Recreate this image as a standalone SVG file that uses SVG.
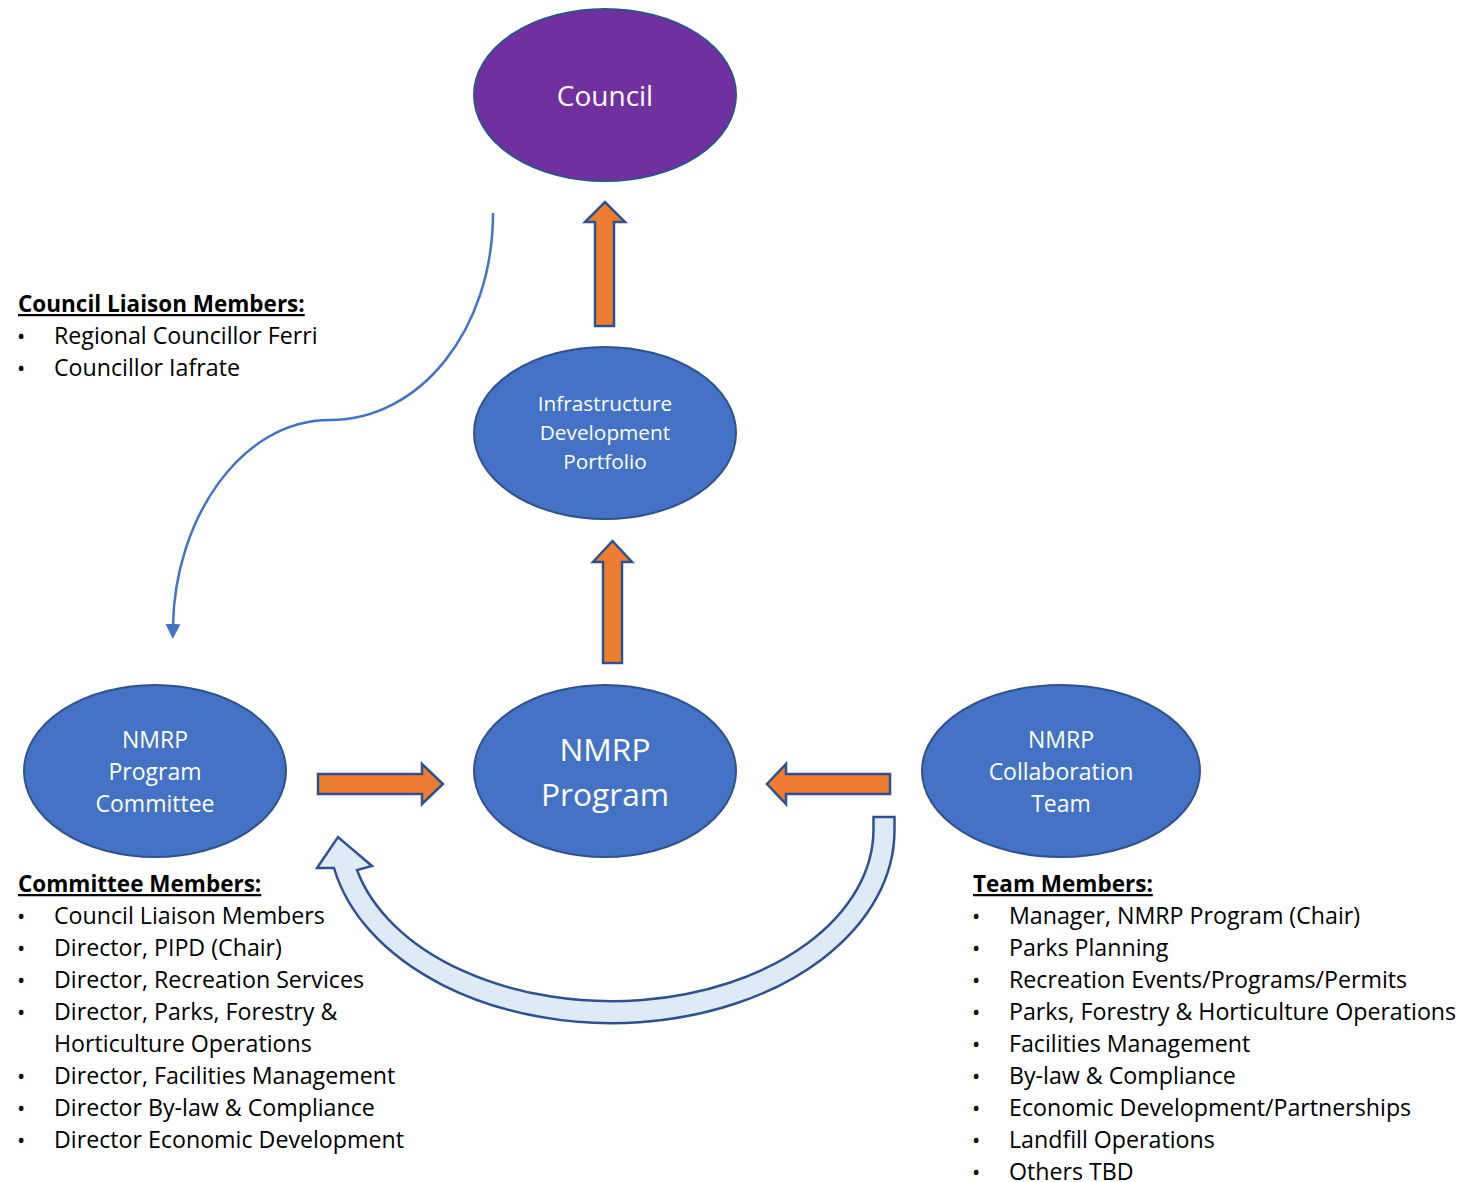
<svg xmlns="http://www.w3.org/2000/svg" width="1483" height="1182" viewBox="0 0 1483 1182">
<style>
.node{stroke:#2F528F;stroke-width:2}
.blue{fill:#4472C4}
.purple{fill:#7030A0}
.nt{fill:#FFFFFF;font-family:"Open Sans","Noto Sans",sans-serif;text-anchor:middle}
.blk{fill:#000000;font-family:"Open Sans","Noto Sans",sans-serif;font-size:23.2px}
.hd{font-weight:bold;text-decoration:underline;font-size:22.5px}
.bul{font-size:22px}
.arrow{fill:#ED7D31;stroke:#2F528F;stroke-width:2.5;stroke-linejoin:miter}
.curve{fill:#DEEBF7;stroke:#2F528F;stroke-width:2.5}
.line{fill:none;stroke:#4472C4;stroke-width:2.5}
</style>
<defs>
<marker id="tri" markerWidth="16" markerHeight="16" refX="1" refY="8" orient="auto" markerUnits="userSpaceOnUse" viewBox="0 0 16 16">
<path d="M0,0.5 L15,8 L0,15.5 Z" fill="#4472C4"/>
</marker>
</defs>

<g id="council">
<ellipse class="node purple" cx="605" cy="95" rx="131" ry="86"/>
<text class="nt" x="605" y="106" font-size="28">Council</text>
</g>

<g id="infrastructure">
<ellipse class="node blue" cx="605" cy="433" rx="131" ry="86"/>
<text class="nt" x="605" y="411" font-size="20.8">Infrastructure</text>
<text class="nt" x="605" y="440" font-size="20.8">Development</text>
<text class="nt" x="605" y="469" font-size="20.8">Portfolio</text>
</g>

<g id="program">
<ellipse class="node blue" cx="605" cy="771" rx="131" ry="86"/>
<text class="nt" x="605" y="761" font-size="31.7">NMRP</text>
<text class="nt" x="605" y="806" font-size="31.7">Program</text>
</g>

<g id="committee">
<ellipse class="node blue" cx="155" cy="771" rx="131" ry="86"/>
<text class="nt" x="155" y="748" font-size="23">NMRP</text>
<text class="nt" x="155" y="780" font-size="23">Program</text>
<text class="nt" x="155" y="812" font-size="23">Committee</text>
</g>

<g id="team">
<ellipse class="node blue" cx="1061" cy="771" rx="139" ry="86"/>
<text class="nt" x="1061" y="748" font-size="23">NMRP</text>
<text class="nt" x="1061" y="780" font-size="23">Collaboration</text>
<text class="nt" x="1061" y="812" font-size="23">Team</text>
</g>

<g id="connectors">
<path class="arrow" d="M595 326 L595 222 L585 222 L605 202 L625 222 L614 222 L614 326 Z"/>
<path class="arrow" d="M603 663 L603 562 L593 562 L612.5 541 L632 562 L622 562 L622 663 Z"/>
<path class="arrow" d="M318 774 L422 774 L422 764 L443 784 L422 804 L422 794 L318 794 Z"/>
<path class="arrow" d="M890 774 L786 774 L786 764 L767 784 L786 804 L786 794 L890 794 Z"/>
<path class="curve" d="M894.5 817 L894.5 830 A 283 193 0 0 1 334 868 L 317 868 L 338 837 L 372 866 L 357 870 A 262 172 0 0 0 873.5 830 L 873.5 817 Z"/>
<path class="line" d="M493 213 C 493 330, 420 420, 330 420 C 240 420, 175 520, 173 625" marker-end="url(#tri)"/>
</g>

<g id="liaison-text">
<text class="blk hd" x="18" y="312">Council Liaison Members:</text>
<text class="blk bul" x="17" y="344">•</text><text class="blk" x="54" y="344">Regional Councillor Ferri</text>
<text class="blk bul" x="17" y="376">•</text><text class="blk" x="54" y="376">Councillor Iafrate</text>
</g>

<g id="committee-text">
<text class="blk hd" x="18" y="892">Committee Members:</text>
<text class="blk bul" x="17" y="924">•</text><text class="blk" x="54" y="924">Council Liaison Members</text>
<text class="blk bul" x="17" y="956">•</text><text class="blk" x="54" y="956">Director, PIPD (Chair)</text>
<text class="blk bul" x="17" y="988">•</text><text class="blk" x="54" y="988">Director, Recreation Services</text>
<text class="blk bul" x="17" y="1020">•</text><text class="blk" x="54" y="1020">Director, Parks, Forestry &amp;</text>
<text class="blk" x="54" y="1052">Horticulture Operations</text>
<text class="blk bul" x="17" y="1084">•</text><text class="blk" x="54" y="1084">Director, Facilities Management</text>
<text class="blk bul" x="17" y="1116">•</text><text class="blk" x="54" y="1116">Director By-law &amp; Compliance</text>
<text class="blk bul" x="17" y="1148">•</text><text class="blk" x="54" y="1148">Director Economic Development</text>
</g>

<g id="team-text">
<text class="blk hd" x="973" y="892">Team Members:</text>
<text class="blk bul" x="972" y="924">•</text><text class="blk" x="1009" y="924">Manager, NMRP Program (Chair)</text>
<text class="blk bul" x="972" y="956">•</text><text class="blk" x="1009" y="956">Parks Planning</text>
<text class="blk bul" x="972" y="988">•</text><text class="blk" x="1009" y="988">Recreation Events/Programs/Permits</text>
<text class="blk bul" x="972" y="1020">•</text><text class="blk" x="1009" y="1020">Parks, Forestry &amp; Horticulture Operations</text>
<text class="blk bul" x="972" y="1052">•</text><text class="blk" x="1009" y="1052">Facilities Management</text>
<text class="blk bul" x="972" y="1084">•</text><text class="blk" x="1009" y="1084">By-law &amp; Compliance</text>
<text class="blk bul" x="972" y="1116">•</text><text class="blk" x="1009" y="1116">Economic Development/Partnerships</text>
<text class="blk bul" x="972" y="1148">•</text><text class="blk" x="1009" y="1148">Landfill Operations</text>
<text class="blk bul" x="972" y="1180">•</text><text class="blk" x="1009" y="1180">Others TBD</text>
</g>
</svg>
